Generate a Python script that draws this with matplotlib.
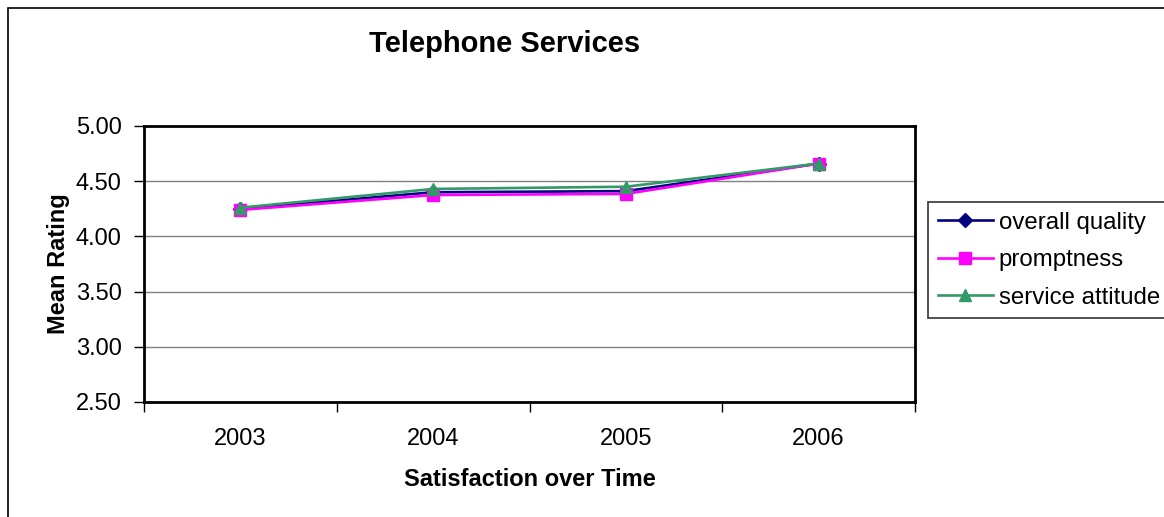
import matplotlib
matplotlib.use("Agg")
import matplotlib.pyplot as plt
from matplotlib.patches import Rectangle
from matplotlib.ticker import FixedLocator, NullFormatter

plt.rcParams['font.family'] = ['Liberation Sans', 'DejaVu Sans']

years = ["2003", "2004", "2005", "2006"]
overall_quality = [4.25, 4.40, 4.41, 4.66]
promptness = [4.24, 4.375, 4.385, 4.66]
service_attitude = [4.26, 4.43, 4.45, 4.66]
y_ticks = [2.50, 3.00, 3.50, 4.00, 4.50, 5.00]

W, H = 1164, 517
fig = plt.figure(figsize=(W / 100, H / 100), dpi=100)
fig.patch.set_facecolor('white')
fig.patches.append(Rectangle((8 / W, -0.1), 1.2, 1 - 8 / H + 0.1, transform=fig.transFigure,
                             fill=False, edgecolor='black', linewidth=1.2))

ax = fig.add_axes([144 / W, 1 - 402 / H, (915 - 144) / W, (402 - 126) / H])
x = list(range(len(years)))
l1, = ax.plot(x, overall_quality, color='#000080', marker='D', markersize=7, linewidth=1.9,
              label='overall quality', clip_on=False, zorder=3)
l2, = ax.plot(x, promptness, color='#FF00FF', marker='s', markersize=8, linewidth=1.9,
              label='promptness', clip_on=False, zorder=3)
l3, = ax.plot(x, service_attitude, color='#339966', marker='^', markersize=9, linewidth=1.9,
              label='service attitude', clip_on=False, zorder=4)

ax.set_xlim(-0.5, len(years) - 0.5)
ax.set_ylim(2.5, 5.0)
ax.set_yticks(y_ticks)
ax.set_yticklabels([f"{v:.2f}" for v in y_ticks], fontsize=17)
ax.xaxis.set_major_locator(FixedLocator([i - 0.5 for i in range(len(years) + 1)]))
ax.xaxis.set_major_formatter(NullFormatter())
ax.xaxis.set_minor_locator(FixedLocator(x))
ax.set_xticklabels(years, minor=True, fontsize=17)
ax.tick_params(axis='x', which='minor', length=0, pad=19)
ax.tick_params(axis='x', which='major', length=7, width=1, direction='out')
ax.tick_params(axis='y', length=7, width=1, direction='out', pad=9)
ax.yaxis.grid(True, color='#808080', linewidth=1)
ax.set_axisbelow(True)
for s in ax.spines.values():
    s.set_linewidth(2)
    s.set_color('black')

ax.set_ylabel('Mean Rating', fontsize=17, fontweight='bold', labelpad=4)
ax.set_xlabel('Satisfaction over Time', fontsize=17, fontweight='bold', labelpad=13)
fig.text(505 / W, 1 - 44 / H, 'Telephone Services', fontsize=21, fontweight='bold',
         ha='center', va='center')

leg = fig.legend(handles=[l1, l2, l3], loc='upper left',
                 bbox_to_anchor=(928 / W, 1 - 202 / H), fontsize=17.3,
                 frameon=True, fancybox=False, borderpad=0.4, labelspacing=0.65,
                 handlelength=2.3, handletextpad=0.25, borderaxespad=0)
leg.get_frame().set_edgecolor('black')
leg.get_frame().set_linewidth(1.2)

fig.savefig('out.png', dpi=100)
